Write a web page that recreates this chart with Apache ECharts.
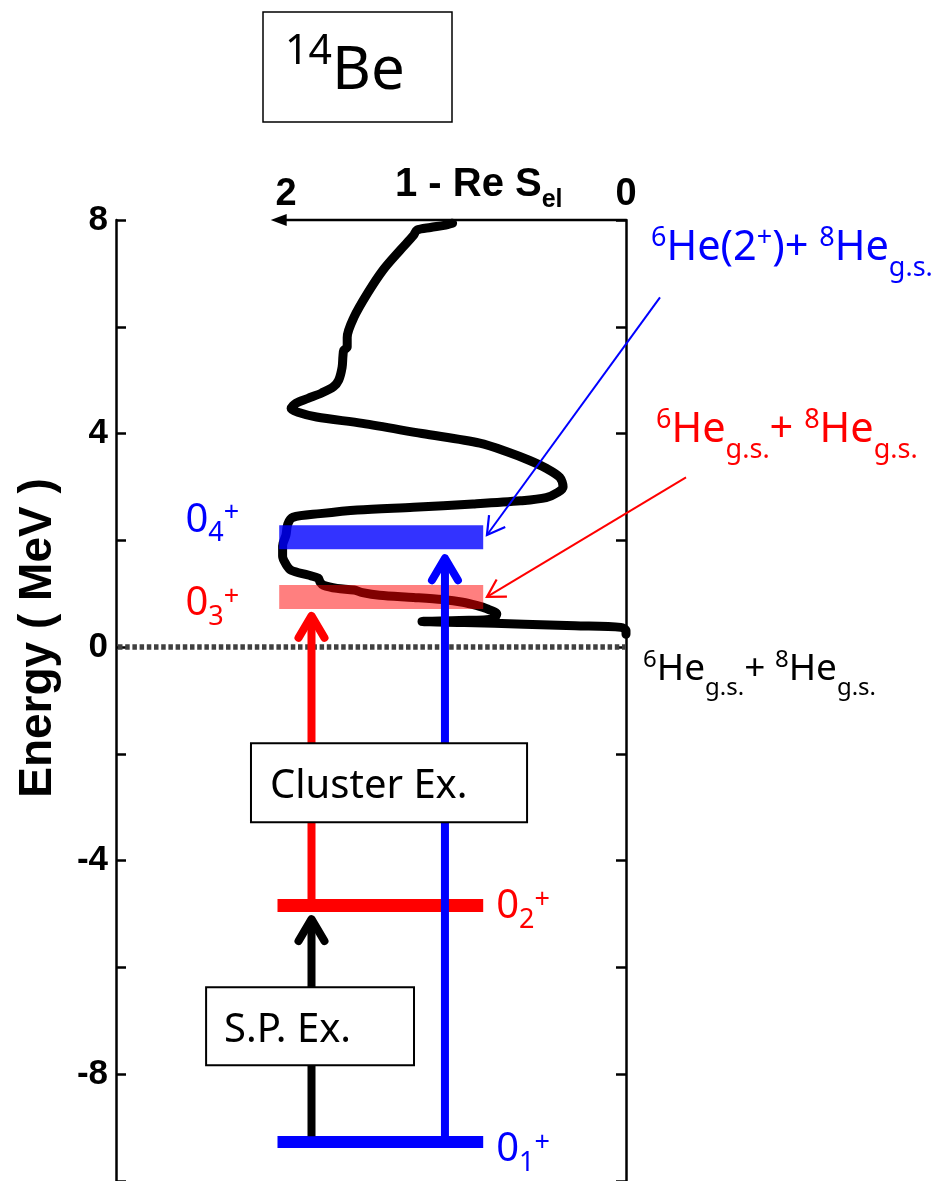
<!DOCTYPE html>
<html>
<head>
<meta charset="utf-8">
<script src="https://cdn.jsdelivr.net/npm/echarts@6/dist/echarts.min.js"></script>
<style>
  html, body { margin: 0; padding: 0; background: #fff; }
  #chart { width: 944px; height: 1181px; }
</style>
</head>
<body>
<div id="chart"></div>
<script>
// ---- values -------------------------------------------------------------
// labelled ticks
const energyTicks = [8, 4, 0, -4, -8];      // Energy (MeV)
const reSelTicks = [2, 0];                   // 1 - Re S_el

// 1 - Re S_el as a function of the 6He + 8He relative energy
const curveEnergy = [0.24, 0.31, 0.37, 0.40, 0.43, 0.46, 0.48, 0.50, 0.53, 0.62,
  0.72, 0.78, 0.84, 0.89, 0.93, 0.97, 1.02, 1.07, 1.10, 1.16,
  1.22, 1.29, 1.35, 1.44, 1.55, 1.70, 1.90, 2.10, 2.30, 2.43,
  2.50, 2.57, 2.62, 2.68, 2.74, 2.80, 2.90, 3.00, 3.18, 3.35,
  3.50, 3.66, 3.82, 4.00, 4.19, 4.31, 4.40, 4.47, 4.57, 4.66,
  4.76, 4.88, 5.00, 5.24, 5.45, 5.56, 5.62, 5.80, 6.18, 6.63,
  7.06, 7.43, 7.71, 7.81, 7.86, 7.90, 7.94];
const curveReS = [0.00, 0.00, 0.03, 0.30, 0.60, 0.95, 1.20, 0.98, 0.78, 0.76,
  0.82, 0.88, 0.96, 1.08, 1.25, 1.45, 1.55, 1.60, 1.70, 1.78,
  1.80, 1.81, 1.87, 1.97, 2.00, 2.02, 2.02, 2.00, 1.99, 1.96,
  1.80, 1.58, 1.25, 0.90, 0.62, 0.47, 0.40, 0.37, 0.39, 0.47,
  0.57, 0.70, 0.86, 1.20, 1.55, 1.82, 1.93, 1.97, 1.94, 1.87,
  1.79, 1.72, 1.69, 1.67, 1.665, 1.66, 1.64, 1.64, 1.60, 1.52,
  1.43, 1.33, 1.25, 1.23, 1.15, 1.07, 1.02];

// 0+ levels of 14Be
const levelIndex = ['1', '2', '3', '4'];
const levelEnergy = [-9.27, -4.84, 0.94, 2.06];
const levelFrom = [2.05, 2.05, 2.04, 2.04];
const levelTo = [0.84, 0.84, 0.84, 0.84];

// excitation arrows (drawn at a fixed 1 - Re S_el column)
const arrowAt = [1.85, 1.065, 1.85];
const arrowFrom = [-4.84, -9.27, -9.16];
const arrowTo = [0.66, 1.74, -5.02];

// ---- styles -------------------------------------------------------------
const SANS = '"Noto Sans", "Open Sans", sans-serif';
const ARIAL = '"Liberation Sans", Arial, Helvetica, sans-serif';
const BLUE = '#0000ff', RED = '#ff0000';

const levelFill = [BLUE, RED, 'rgba(255,0,0,0.5)', 'rgba(0,0,255,0.8)'];
const levelThick = [12, 13, 24, 24];
const levelLabelColor = [BLUE, RED, RED, BLUE];
// label placement: side of the bar and pixel offsets
const levelLabelSide = ['right', 'right', 'left', 'left'];
const levelLabelDx = [13, 13, -40, -40];
const levelLabelDy = [8, 1, 7, -17];
const arrowColor = [RED, BLUE, '#000000'];

const chart = echarts.init(document.getElementById('chart'), null, { renderer: 'canvas' });

const yAxisBase = {
  type: 'value', min: -10, max: 8, interval: 2,
  axisLine: { show: true, onZero: false, lineStyle: { color: '#000', width: 2.5 } },
  axisTick: { show: true, inside: true, length: 10, lineStyle: { color: '#000', width: 2.5 } },
  splitLine: { show: false }
};

function arrowHead(tip, dir, len, ang) {
  // dir: unit vector pointing from the tip back along the shaft
  const c = Math.cos(ang), s = Math.sin(ang);
  const a1 = [tip[0] + len * (dir[0] * c - dir[1] * s), tip[1] + len * (dir[0] * s + dir[1] * c)];
  const a2 = [tip[0] + len * (dir[0] * c + dir[1] * s), tip[1] + len * (-dir[0] * s + dir[1] * c)];
  return [a1, tip, a2];
}

const option = {
  animation: false,
  backgroundColor: '#ffffff',
  grid: { left: 116, right: 318, top: 220, bottom: 0, containLabel: false },
  xAxis: {
    type: 'value', min: 0, max: 3, interval: 1, inverse: true, position: 'top',
    axisLine: { show: false, onZero: false },
    axisTick: { show: false },
    splitLine: { show: false },
    axisLabel: {
      margin: 6, color: '#000', fontFamily: ARIAL, fontWeight: 'bold', fontSize: 38,
      showMinLabel: true, showMaxLabel: true,
      formatter: v => (reSelTicks.indexOf(v) >= 0 ? String(v) : '')
    }
  },
  yAxis: [
    Object.assign({}, yAxisBase, {
      position: 'left',
      axisLabel: {
        margin: 8, color: '#000', fontFamily: ARIAL, fontWeight: 'bold', fontSize: 35,
        showMinLabel: true, showMaxLabel: true,
        formatter: v => (energyTicks.indexOf(v) >= 0 ? String(v) : '')
      }
    }),
    Object.assign({}, yAxisBase, { position: 'right', axisLabel: { show: false } })
  ],
  series: [
    // 6He + 8He threshold
    {
      type: 'custom', name: 'threshold', clip: false, z: 1, silent: true,
      data: [[3, 0, 0, 0]],
      renderItem(params, api) {
        const a = api.coord([api.value(0), api.value(1)]);
        const b = api.coord([api.value(2), api.value(3)]);
        return {
          type: 'line', shape: { x1: a[0] + 2, y1: a[1], x2: b[0], y2: b[1] },
          style: { stroke: '#404040', lineWidth: 5.5, lineDash: [4.5, 2.7], lineCap: 'butt' }
        };
      }
    },
    // 1 - Re S_el curve
    {
      type: 'line', name: '1 - Re Sel', clip: false, symbol: 'none', smooth: 0.3, z: 2,
      data: curveEnergy.map((e, i) => [curveReS[i], e]),
      lineStyle: { color: '#000', width: 9, cap: 'round', join: 'round' }
    },
    // top axis arrow (1 - Re S_el grows to the left)
    {
      type: 'custom', name: 'top axis', clip: false, z: 3,
      data: [[0, 8, 2.09, 8]],
      renderItem(params, api) {
        const a = api.coord([api.value(0), api.value(1)]);
        const b = api.coord([api.value(2), api.value(3)]);
        return {
          type: 'group', children: [
            { type: 'line', shape: { x1: a[0], y1: a[1], x2: b[0] + 10, y2: b[1] }, style: { stroke: '#000', lineWidth: 2.5 } },
            { type: 'polygon', shape: { points: [[b[0], b[1]], [b[0] + 16, b[1] - 6], [b[0] + 16, b[1] + 6]] }, style: { fill: '#000' } }
          ]
        };
      }
    },
    // level bars
    {
      type: 'custom', name: 'levels', clip: false, z: 4,
      data: levelEnergy.map((e, i) => [levelFrom[i], levelTo[i], e, i]),
      renderItem(params, api) {
        const i = api.value(3);
        const a = api.coord([api.value(0), api.value(2)]);
        const b = api.coord([api.value(1), api.value(2)]);
        const h = levelThick[i];
        return {
          type: 'rect',
          shape: { x: Math.min(a[0], b[0]), y: a[1] - h / 2, width: Math.abs(b[0] - a[0]), height: h },
          style: { fill: levelFill[i] }
        };
      }
    },
    // excitation arrows
    {
      type: 'custom', name: 'excitations', clip: false, z: 5,
      data: arrowAt.map((x, i) => [x, arrowFrom[i], arrowTo[i], i]),
      renderItem(params, api) {
        const i = api.value(3);
        const a = api.coord([api.value(0), api.value(1)]);
        const b = api.coord([api.value(0), api.value(2)]);
        const c = arrowColor[i];
        return {
          type: 'group', children: [
            { type: 'line', shape: { x1: a[0], y1: a[1], x2: b[0], y2: b[1] + 6 }, style: { stroke: c, lineWidth: 8 } },
            {
              type: 'polyline',
              shape: { points: [[b[0] - 13, b[1] + 26], [b[0], b[1] + 4], [b[0] + 13, b[1] + 26]] },
              style: { stroke: c, lineWidth: 8, fill: 'none', lineCap: 'round', lineJoin: 'round' }
            }
          ]
        };
      }
    },
    // pointers from channel labels to the resonances
    {
      type: 'custom', name: 'pointers', clip: false, z: 6,
      data: [[-0.2, 6.55, 0.818, 2.10, 0], [-0.353, 3.18, 0.818, 0.94, 1]],
      renderItem(params, api) {
        const c = api.value(4) === 0 ? BLUE : RED;
        const a = api.coord([api.value(0), api.value(1)]);
        const b = api.coord([api.value(2), api.value(3)]);
        const L = Math.hypot(a[0] - b[0], a[1] - b[1]);
        const dir = [(a[0] - b[0]) / L, (a[1] - b[1]) / L];
        return {
          type: 'group', children: [
            { type: 'line', shape: { x1: a[0], y1: a[1], x2: b[0], y2: b[1] }, style: { stroke: c, lineWidth: 2 } },
            { type: 'polyline', shape: { points: arrowHead(b, dir, 20, Math.PI / 6) }, style: { stroke: c, lineWidth: 2.2, fill: 'none' } }
          ]
        };
      }
    }
  ]
};
chart.setOption(option);

// ---- annotations ----------------------------------------------------------
const px = (x, e) => chart.convertToPixel({ gridIndex: 0 }, [x, e]);

function richText(x, y, text, rich, align, extra) {
  return Object.assign({
    type: 'text', z: 100, x: x, y: y,
    style: {
      text: text, rich: rich, align: align, verticalAlign: 'middle',
      textAlign: align, textVerticalAlign: 'middle', fontFamily: SANS
    }
  }, extra || {});
}

function levelRich(color) {
  return {
    m: { fontFamily: SANS, fontSize: 40, lineHeight: 54, fill: color },
    d: { fontFamily: SANS, fontSize: 27, verticalAlign: 'bottom', fill: color },
    u: { fontFamily: SANS, fontSize: 27, verticalAlign: 'top', padding: [7, 0, 0, 0], fill: color }
  };
}

function channelRich(color, size, small, lh, pad) {
  return {
    m: { fontFamily: SANS, fontSize: size, lineHeight: lh, fill: color },
    d: { fontFamily: SANS, fontSize: small, verticalAlign: 'bottom', fill: color },
    u: { fontFamily: SANS, fontSize: small, verticalAlign: 'top', padding: [pad, 0, 0, 0], fill: color }
  };
}

function box(x0, e0, x1, e1, label, tx, ty) {
  const a = px(x0, e0), b = px(x1, e1);
  return [
    {
      type: 'rect', z: 90,
      shape: { x: Math.min(a[0], b[0]), y: Math.min(a[1], b[1]), width: Math.abs(b[0] - a[0]), height: Math.abs(b[1] - a[1]) },
      style: { fill: '#fff', stroke: '#000', lineWidth: 2 }
    },
    {
      type: 'text', z: 91, x: Math.min(a[0], b[0]) + tx, y: (a[1] + b[1]) / 2 + ty,
      style: { text: label, fontFamily: SANS, fontSize: 40, fill: '#000', align: 'left', verticalAlign: 'middle', textAlign: 'left', textVerticalAlign: 'middle' }
    }
  ];
}

const elements = [];

// level labels 0_n^+
levelEnergy.forEach((e, i) => {
  const anchorX = levelLabelSide[i] === 'right' ? levelTo[i] : levelFrom[i];
  const p = px(anchorX, e);
  elements.push(richText(p[0] + levelLabelDx[i], p[1] + levelLabelDy[i],
    '{m|0}{d|' + levelIndex[i] + '}{u|+}', levelRich(levelLabelColor[i]),
    levelLabelSide[i] === 'right' ? 'left' : 'right'));
});

// explanatory boxes
elements.push.apply(elements, box(2.206, -1.80, 0.582, -3.28, 'Cluster Ex.', 19, 4));
elements.push.apply(elements, box(2.47, -6.37, 1.247, -7.83, 'S.P. Ex.', 18, 4));

// channel labels
elements.push(richText(651, 248.6, '{u|6}{m|He(2}{u|+}{m|)+ }{u|8}{m|He}{d|g.s.}',
  channelRich(BLUE, 41.5, 27, 67, 10), 'left'));
elements.push(richText(656, 430.6, '{u|6}{m|He}{d|g.s.}{m|+ }{u|8}{m|He}{d|g.s.}',
  channelRich(RED, 41.5, 27, 67, 10), 'left'));
elements.push(richText(643, 669.5, '{u|6}{m|He}{d|g.s.}{m|+ }{u|8}{m|He}{d|g.s.}',
  channelRich('#000', 37, 24, 61, 9), 'left'));

// top axis name
elements.push(richText(395, 185.2, '{m|1 - Re S}{d|el}', {
  m: { fontFamily: ARIAL, fontWeight: 'bold', fontSize: 40, lineHeight: 54, fill: '#000' },
  d: { fontFamily: ARIAL, fontWeight: 'bold', fontSize: 25, verticalAlign: 'bottom', fill: '#000' }
}, 'left'));

// energy axis name
elements.push({
  type: 'text', z: 100, x: 38, y: 638, rotation: Math.PI / 2,
  style: {
    text: 'Energy ( MeV )', fontFamily: ARIAL, fontWeight: 'bold', fontSize: 46, fill: '#000',
    align: 'center', verticalAlign: 'middle', textAlign: 'center', textVerticalAlign: 'middle'
  }
});

// nucleus tag
elements.push({
  type: 'rect', z: 90, shape: { x: 263, y: 12, width: 189, height: 110 },
  style: { fill: '#fff', stroke: '#000', lineWidth: 1.5 }
});
elements.push(richText(285, 72, '{u|14}{m|Be}', {
  m: { fontFamily: SANS, fontSize: 60, lineHeight: 80, fill: '#000' },
  u: { fontFamily: SANS, fontSize: 41, verticalAlign: 'top', fill: '#000' }
}, 'left'));

chart.setOption({ graphic: { elements: elements } });
</script>
</body>
</html>
